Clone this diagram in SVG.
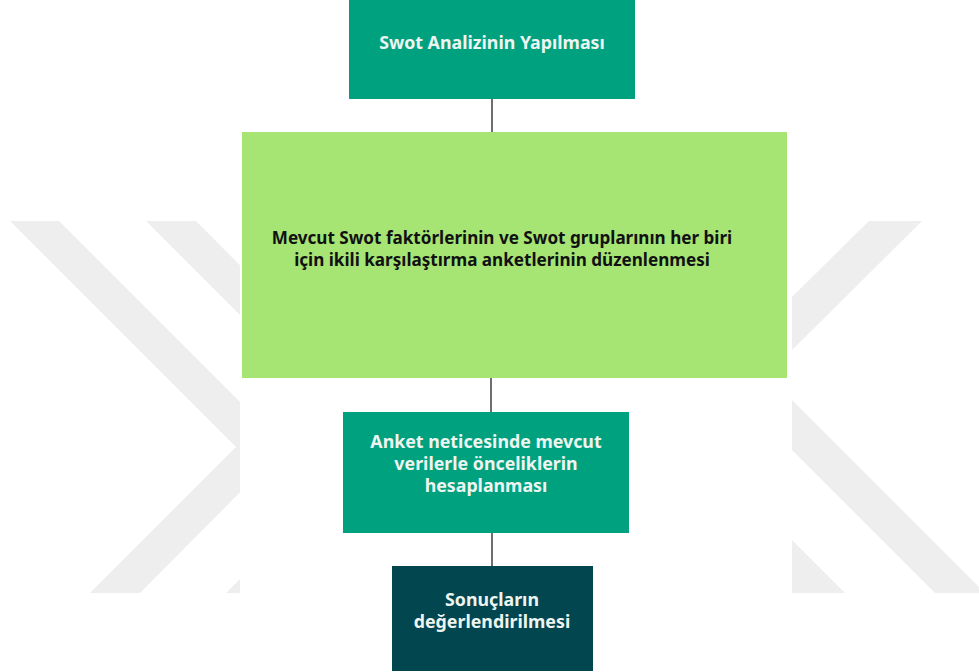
<svg xmlns="http://www.w3.org/2000/svg" width="979" height="672" viewBox="0 0 979 672">
  <defs>
    <style>
      .node-teal { fill: #00a17f; }
      .node-lime { fill: #a6e474; }
      .node-dark { fill: #02464f; }
      .lbl { font-family: "Noto Sans", "Open Sans", "DejaVu Sans", sans-serif; font-weight: 700; font-size: 17.8px; text-anchor: middle; }
      .lbl-light { fill: #eef5f1; }
      .lbl-dark { fill: #111111; font-size: 17.1px; }
      .link { stroke: #5f5f5f; stroke-width: 1.8; fill: none; }
      .mark { fill: #eeeeee; }
    </style>
    <clipPath id="margins">
      <rect x="0" y="0" width="240" height="672"/>
      <rect x="792" y="0" width="187" height="672"/>
    </clipPath>
  </defs>

  <rect x="0" y="0" width="979" height="672" fill="#ffffff"/>

  <!-- background chevron bands, visible only in the side margins -->
  <g id="watermark" clip-path="url(#margins)">
    <polygon class="mark" points="10,221 59,221 285,447 140,593 90,593 236,447"/>
    <polygon class="mark" points="146,221 196,221 421,447 276,593 226,593 372,447"/>
    <polygon class="mark" points="869,221 922,221 792,350 792,297"/>
    <polygon class="mark" points="792,400 979,587 979,593 935,593 792,450"/>
    <polygon class="mark" points="792,540 845,593 792,593"/>
  </g>

  <!-- connectors -->
  <g id="connectors">
    <line class="link" x1="492" y1="99" x2="492" y2="132"/>
    <line class="link" x1="491" y1="378" x2="491" y2="412"/>
    <line class="link" x1="492" y1="533" x2="492" y2="566"/>
  </g>

  <g id="node-swot">
    <rect class="node-teal" x="349" y="0" width="286" height="99"/>
    <text class="lbl lbl-light" x="492" y="49">Swot Analizinin Yapılması</text>
  </g>

  <g id="node-survey">
    <rect class="node-lime" x="242" y="132" width="545" height="246"/>
    <text class="lbl lbl-dark" x="502" y="244">Mevcut Swot faktörlerinin ve Swot gruplarının her biri</text>
    <text class="lbl lbl-dark" x="502" y="266">için ikili karşılaştırma anketlerinin düzenlenmesi</text>
  </g>

  <g id="node-priorities">
    <rect class="node-teal" x="343" y="412" width="286" height="121"/>
    <text class="lbl lbl-light" x="486" y="448">Anket neticesinde mevcut</text>
    <text class="lbl lbl-light" x="486" y="470">verilerle önceliklerin</text>
    <text class="lbl lbl-light" x="486" y="492">hesaplanması</text>
  </g>

  <g id="node-results">
    <rect class="node-dark" x="392" y="566" width="201" height="105"/>
    <text class="lbl lbl-light" x="492" y="606">Sonuçların</text>
    <text class="lbl lbl-light" x="492" y="628">değerlendirilmesi</text>
  </g>
</svg>
